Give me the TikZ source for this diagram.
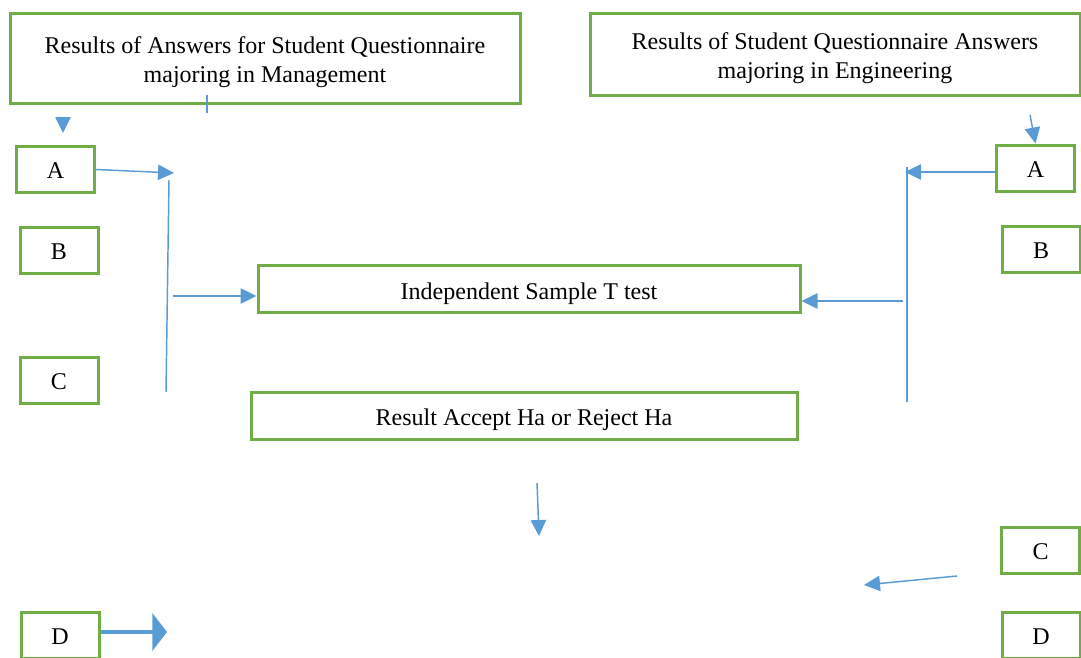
\documentclass[tikz,border=0pt]{standalone}
\usepackage{fontspec}
\setmainfont{Liberation Serif}
\usetikzlibrary{arrows.meta}
\definecolor{boxgreen}{HTML}{70AD47}
\definecolor{lineblue}{HTML}{5B9BD5}
\begin{document}
\begin{tikzpicture}[x=0.75pt, y=-0.75pt]
        \tikzstyle{every node} = [font=\fontsize{18pt}{21.75pt}\selectfont]
        \tikzstyle{box} = [draw=boxgreen, line width=2.25pt, align=center, inner sep=0pt]
        \tikzstyle{title} = [box, text height=40pt, text depth=3.9pt]
        \tikzstyle{letter} = [box, minimum width=58.5pt, minimum height=34.5pt, text height=14pt, text depth=0pt]
        \tikzstyle{arr} = [draw=lineblue, line width=1.1pt, -{Triangle[length=12pt, width=11.5pt]}]
        \tikzstyle{plain} = [draw=lineblue, line width=1.1pt]
        \useasboundingbox (0,0) rectangle (1081,657);

        \node[title, minimum width=382.5pt, minimum height=67.5pt](mgmt) at (265,58) {Results of Answers for Student Questionnaire\\majoring in Management};
        \node[title, minimum width=367.5pt, minimum height=61.5pt](eng) at (835,54) {Results of Student Questionnaire Answers\\majoring in Engineering};

        \node[letter](lA) at (55.5,169.5){A};
        \node[letter](lB) at (59,250){B};
        \node[letter](lC) at (59,380.5){C};
        \node[letter](lD) at (60,635){D};

        \node[letter](rA) at (1035.5,168){A};
        \node[letter](rB) at (1041,249.5){B};
        \node[letter](rC) at (1040.5,550){C};
        \node[letter](rD) at (1041,635.5){D};

        \node[box, minimum width=406.5pt, minimum height=35.25pt, text height=16.3pt, text depth=0pt](ttest) at (529,288.5){Independent Sample T test};
        \node[box, minimum width=409.5pt, minimum height=35.25pt, text height=15.2pt, text depth=0pt](result) at (524,415.5){Result Accept Ha or Reject Ha};

        % left side
        \coordinate (tick1) at (207,95);
        \coordinate (tick2) at (207,113);
        \coordinate (tri1) at (63,119);
        \coordinate (tri2) at (63,133);
        \coordinate (lAend) at (174,173);
        \coordinate (ltop) at (169,180);
        \coordinate (lbot) at (166,392);
        \coordinate (lmid) at (173,296);
        \coordinate (lDend) at (167,632);
        \path[plain] (tick1) -- (tick2);
        \path[arr] (tri1) -- (tri2);
        \path[arr] (lA.east) -- (lAend);
        \path[plain] (ltop) -- (lbot);
        \path[arr] (lmid) -- (lmid -| ttest.west);
        \path[draw=lineblue, line width=3pt, -{Triangle[length=11pt, width=28pt]}] (lD.east |- lDend) -- (lDend);

        % right side
        \coordinate (rAtop) at (1030,115);
        \coordinate (rAend) at (905,172);
        \coordinate (rtop) at (907,167);
        \coordinate (rbot) at (907,402);
        \coordinate (rmid) at (903,301);
        \coordinate (rCbeg) at (957,576);
        \coordinate (rCend) at (864,585);
        \path[arr] (rAtop) -- (rA.north);
        \path[arr] (rA.west |- rAend) -- (rAend);
        \path[plain] (rtop) -- (rbot);
        \path[arr] (rmid) -- (rmid -| ttest.east);
        \path[arr] (rCbeg) -- (rCend);

        % below result
        \coordinate (down1) at (537,483);
        \coordinate (down2) at (539,536);
        \path[arr] (down1) -- (down2);
    \end{tikzpicture}
\end{document}
